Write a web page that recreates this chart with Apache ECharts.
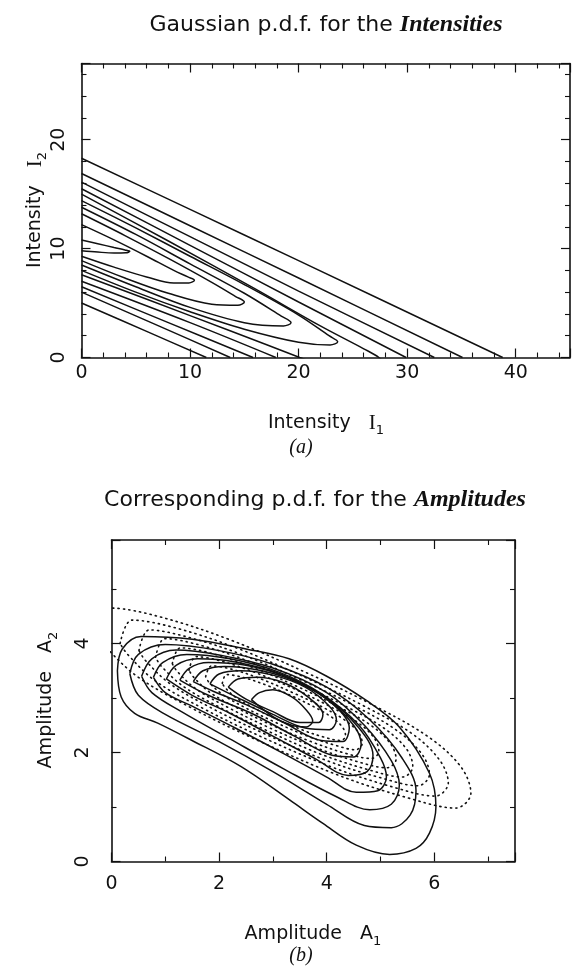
<!DOCTYPE html>
<html>
<head>
<meta charset="utf-8">
<title>Gaussian p.d.f. for the Intensities</title>
<script src="https://cdn.jsdelivr.net/npm/echarts@6/dist/echarts.min.js"></script>
<style>
html, body { margin: 0; padding: 0; background: #fff; }
#chart { width: 572px; height: 967px; }
</style>
</head>
<body>
<div id="chart"></div>
<script>
// ---- (a) intensities: contours, [I1, I2] ----
// contours whose tip is inside the frame (upper branch -> tip -> lower branch)
var intTip1 = [[0,10.8],[1.5,10.45],[3,10.1],[4.0,9.88],[4.45,9.75],[4.1,9.62],[3,9.6],[1.5,9.68],[0,9.8]];
var intTip2 = [[0,12.2],[3,10.8],[6,9.3],[8.5,8.0],[9.8,7.4],[10.4,7.1],[9.9,6.85],[8.5,6.85],[6,7.4],[3,8.3],[0,9.3]];
var intTip3 = [[0,13.2],[4,11.2],[8,9.1],[12,6.9],[14.2,5.6],[15.0,5.1],[14.4,4.8],[12,4.9],[8,5.9],[4,7.3],[0,8.9]];
var intTip4 = [[0,13.8],[5,11.3],[10,8.6],[15,5.9],[18.4,3.8],[19.3,3.2],[18.6,2.9],[15,3.2],[10,4.6],[5,6.5],[0,8.5]];
var intTip5 = [[0,14.4],[5,11.9],[10,9.3],[15,6.7],[20,3.9],[22.8,2.0],[23.6,1.45],[22.9,1.15],[20,1.4],[15,2.6],[10,4.2],[5,6.0],[0,8.0]];
// outer contours: both branches leave through the bottom axis
var intOutUp1 = [[0,15.0],[8,10.7],[16,6.3],[22,2.9],[26,0.8],[27.4,0],[28.2,-0.8]];
var intOutUp2 = [[0,15.5],[10,10.3],[20,5.1],[29.9,0]];
var intOutUp3 = [[0,16.1],[10,11.1],[20,6.1],[32.5,0]];
var intOutUp4 = [[0,16.9],[10,12.1],[20,7.3],[35.1,0]];
var intOutUp5 = [[0,18.3],[10,13.6],[20,8.9],[38.8,0]];
var intOutLow1 = [[0,7.6],[10,3.85],[17,1.2],[20.1,0],[22,-0.7]];
var intOutLow2 = [[0,7.0],[10,3.2],[17.9,0]];
var intOutLow3 = [[0,6.5],[8,3.2],[15.8,0]];
var intOutLow4 = [[0,6.0],[7,2.95],[13.7,0]];
var intOutLow5 = [[0,5.0],[6,2.4],[11.5,0]];

// ---- (b) amplitudes: solid contours [A1, A2], outermost first ----
var ampSolid1 = [[0.11,3.5],[0.2,3.9],[0.55,4.13],[1.5,4.08],[2.5,3.9],[3.3,3.72],[4.0,3.4],[4.73,2.96],[5.35,2.47],[5.91,1.62],[6.03,1.0],[5.91,0.52],[5.66,0.24],[5.17,0.13],[4.55,0.3],[3.93,0.7],[3.31,1.13],[2.41,1.74],[1.48,2.23],[0.86,2.54],[0.43,2.72],[0.18,3.02],[0.11,3.5]];
var ampSolid2 = [[0.34,3.45],[0.5,3.8],[1.0,3.98],[2.0,3.87],[3.0,3.62],[4.0,3.2],[4.8,2.6],[5.4,1.9],[5.66,1.3],[5.55,0.85],[5.2,0.62],[4.7,0.66],[4.0,1.05],[3.0,1.65],[2.0,2.2],[1.0,2.7],[0.5,3.05],[0.34,3.45]];
var ampSolid3 = [[0.56,3.4],[0.75,3.72],[1.2,3.88],[2.0,3.79],[3.0,3.55],[4.0,3.1],[4.7,2.5],[5.2,1.85],[5.35,1.4],[5.2,1.05],[4.8,0.95],[4.2,1.18],[3.2,1.7],[2.2,2.25],[1.3,2.75],[0.75,3.1],[0.56,3.4]];
var ampSolid4 = [[0.78,3.38],[0.95,3.65],[1.4,3.8],[2.2,3.72],[3.1,3.48],[3.9,3.08],[4.6,2.5],[5.0,1.9],[5.11,1.55],[4.95,1.3],[4.55,1.27],[4.0,1.55],[3.2,1.98],[2.3,2.45],[1.5,2.85],[1.0,3.1],[0.78,3.38]];
var ampSolid5 = [[1.02,3.35],[1.2,3.6],[1.6,3.72],[2.3,3.66],[3.2,3.42],[4.0,3.0],[4.6,2.45],[4.86,1.95],[4.75,1.65],[4.4,1.58],[3.8,1.88],[3.0,2.3],[2.2,2.72],[1.5,3.05],[1.02,3.35]];
var ampSolid6 = [[1.27,3.33],[1.45,3.55],[1.8,3.65],[2.5,3.6],[3.3,3.37],[4.0,2.98],[4.5,2.5],[4.64,2.15],[4.5,1.92],[4.1,1.95],[3.4,2.3],[2.6,2.72],[1.8,3.05],[1.27,3.33]];
var ampSolid7 = [[1.52,3.3],[1.7,3.5],[2.1,3.58],[2.8,3.5],[3.5,3.27],[4.1,2.9],[4.42,2.45],[4.3,2.2],[3.9,2.22],[3.2,2.55],[2.5,2.88],[1.9,3.12],[1.52,3.3]];
var ampSolid8 = [[1.83,3.26],[2.0,3.44],[2.4,3.5],[3.0,3.42],[3.6,3.2],[4.05,2.85],[4.18,2.6],[4.05,2.42],[3.6,2.45],[3.0,2.7],[2.4,2.98],[1.83,3.26]];
var ampSolid9 = [[2.17,3.2],[2.35,3.35],[2.7,3.38],[3.2,3.28],[3.65,3.02],[3.93,2.7],[3.85,2.55],[3.5,2.55],[3.0,2.75],[2.5,2.98],[2.17,3.2]];
var ampSolid10 = [[2.6,2.97],[2.75,3.1],[3.0,3.15],[3.35,3.02],[3.62,2.78],[3.74,2.58],[3.62,2.47],[3.35,2.5],[3.0,2.66],[2.6,2.97]];

// ---- (b) amplitudes: dotted contours, outermost first ----
var ampDot1 = [[-0.25,4.16],[0,4.65],[0.9,4.49],[2.2,4.07],[3.7,3.43],[4.9,2.85],[5.9,2.28],[6.5,1.73],[6.68,1.25],[6.4,0.98],[5.5,1.17],[4.2,1.59],[2.7,2.23],[1.5,2.81],[0.5,3.38],[-0.1,3.93],[-0.25,4.16]];
var ampDot2 = [[0.16,4.0],[0.38,4.43],[1.18,4.29],[2.32,3.92],[3.64,3.36],[4.7,2.85],[5.58,2.35],[6.1,1.86],[6.26,1.44],[6.02,1.2],[5.22,1.37],[4.08,1.74],[2.76,2.3],[1.7,2.81],[0.82,3.31],[0.3,3.8],[0.16,4.0]];
var ampDot3 = [[0.51,3.87],[0.7,4.25],[1.41,4.12],[2.42,3.8],[3.59,3.3],[4.53,2.85],[5.31,2.4],[5.77,1.97],[5.91,1.6],[5.7,1.39],[4.99,1.54],[3.98,1.86],[2.81,2.36],[1.87,2.81],[1.09,3.26],[0.63,3.69],[0.51,3.87]];
var ampDot4 = [[0.82,3.75],[0.99,4.09],[1.61,3.98],[2.51,3.69],[3.55,3.24],[4.37,2.84],[5.06,2.45],[5.48,2.07],[5.6,1.74],[5.41,1.55],[4.79,1.68],[3.89,1.97],[2.85,2.42],[2.03,2.82],[1.34,3.21],[0.92,3.59],[0.82,3.75]];
var ampDot5 = [[1.13,3.63],[1.28,3.92],[1.82,3.83],[2.6,3.57],[3.5,3.19],[4.22,2.84],[4.82,2.5],[5.18,2.17],[5.29,1.88],[5.12,1.72],[4.58,1.83],[3.8,2.09],[2.9,2.47],[2.18,2.82],[1.58,3.16],[1.22,3.49],[1.13,3.63]];
var ampDot6 = [[1.44,3.51],[1.57,3.76],[2.03,3.68],[2.69,3.46],[3.46,3.14],[4.07,2.84],[4.58,2.55],[4.88,2.27],[4.97,2.02],[4.83,1.89],[4.37,1.98],[3.71,2.2],[2.94,2.52],[2.33,2.82],[1.82,3.11],[1.52,3.39],[1.44,3.51]];
var ampDot7 = [[1.75,3.39],[1.86,3.59],[2.23,3.53],[2.78,3.35],[3.41,3.08],[3.91,2.84],[4.33,2.6],[4.59,2.37],[4.66,2.17],[4.54,2.05],[4.17,2.13],[3.62,2.31],[2.99,2.58],[2.49,2.82],[2.07,3.06],[1.81,3.29],[1.75,3.39]];
var ampDot8 = [[2.06,3.27],[2.14,3.43],[2.44,3.38],[2.87,3.24],[3.37,3.03],[3.76,2.84],[4.09,2.65],[4.29,2.47],[4.35,2.31],[4.26,2.22],[3.96,2.28],[3.53,2.42],[3.03,2.63],[2.64,2.82],[2.31,3.01],[2.11,3.19],[2.06,3.27]];

var intensityLines = [intTip1, intTip2, intTip3, intTip4, intTip5,
    intOutUp1, intOutUp2, intOutUp3, intOutUp4, intOutUp5,
    intOutLow1, intOutLow2, intOutLow3, intOutLow4, intOutLow5];
var ampSolidLines = [ampSolid1, ampSolid2, ampSolid3, ampSolid4, ampSolid5,
    ampSolid6, ampSolid7, ampSolid8, ampSolid9, ampSolid10];
var ampDotLines = [ampDot1, ampDot2, ampDot3, ampDot4, ampDot5, ampDot6, ampDot7, ampDot8];

var sans = 'DejaVu Sans';
var serif = 'Liberation Serif';
var ink = '#111';

function frameAxis(grid, pos, max, step, minorSplit, labels, margin) {
    var isY = (pos == 'left' || pos == 'right');
    return {
        type: 'value',
        gridIndex: grid,
        position: pos,
        min: 0,
        max: max,
        interval: step,
        axisLine: { show: true, onZero: false, lineStyle: { color: ink, width: 1.6 } },
        axisTick: { show: true, inside: true, length: 9, lineStyle: { color: ink, width: 1.2 } },
        minorTick: { show: true, splitNumber: minorSplit, length: 5, lineStyle: { color: ink, width: 1.1 } },
        splitLine: { show: false },
        axisLabel: {
            show: labels,
            showMaxLabel: false,
            color: ink,
            fontFamily: sans,
            fontSize: 19,
            rotate: isY ? 90 : 0,
            margin: margin || 8
        }
    };
}

function contourSeries(lines, xi, yi, dotted) {
    var out = [];
    for (var i = 0; i < lines.length; i++) {
        out.push({
            type: 'line',
            xAxisIndex: xi,
            yAxisIndex: yi,
            data: lines[i],
            showSymbol: false,
            smooth: 0.35,
            silent: true,
            clip: true,
            lineStyle: dotted
                ? { color: ink, width: 1.6, type: [1.2, 4.2], cap: 'round' }
                : { color: ink, width: 1.5 }
        });
    }
    return out;
}

// text placed by hand: titles, axis names, panel letters
function label(text, x, y, size, rotate, extra) {
    var style = {
        text: text, fontFamily: sans, fontSize: size, fill: ink,
        textAlign: 'center', textVerticalAlign: 'middle',
        rich: {
            it: { fontFamily: serif, fontStyle: 'italic', fontWeight: 'bold', fontSize: size + 2, fill: ink },
            s: { fontFamily: serif, fontSize: size + 2, fill: ink },
            sub: { fontFamily: sans, fontSize: 13, fill: ink, lineHeight: 29, verticalAlign: 'bottom' }
        }
    };
    if (extra) { for (var k in extra) style[k] = extra[k]; }
    return { type: 'text', x: x, y: y, rotation: rotate ? Math.PI / 2 : 0, style: style };
}

var chart = echarts.init(document.getElementById('chart'));

var option = {
    backgroundColor: '#fff',
    animation: false,
    grid: [
        { left: 81.5, top: 63.5, width: 488.5, height: 294 },
        { left: 111.5, top: 540, width: 403.5, height: 321.5 }
    ],
    xAxis: [
        frameAxis(0, 'bottom', 45, 10, 5, true, 6),
        frameAxis(0, 'top', 45, 10, 5, false),
        frameAxis(1, 'bottom', 7.5, 2, 2, true, 13),
        frameAxis(1, 'top', 7.5, 2, 2, false)
    ],
    yAxis: [
        frameAxis(0, 'left', 27, 10, 5, true, 13),
        frameAxis(0, 'right', 27, 10, 5, false),
        frameAxis(1, 'left', 5.9, 2, 2, true, 19),
        frameAxis(1, 'right', 5.9, 2, 2, false)
    ],
    graphic: [
        label('Gaussian p.d.f. for the {it|Intensities}', 326, 25, 22, false),
        label('Corresponding p.d.f. for the {it|Amplitudes}', 315, 500, 22, false),
        label('Intensity   {s|I}{sub|1}', 326, 423, 19, false),
        label('Intensity   {s|I}{sub|2}', 35, 210, 19, true),
        label('Amplitude   A{sub|1}', 313, 934, 19, false),
        label('Amplitude   A{sub|2}', 46, 700, 19, true),
        label('(a)', 301, 448, 20, false, { fontFamily: serif, fontStyle: 'italic' }),
        label('(b)', 301, 956, 20, false, { fontFamily: serif, fontStyle: 'italic' })
    ],
    series: []
        .concat(contourSeries(intensityLines, 0, 0, false))
        .concat(contourSeries(ampSolidLines, 2, 2, false))
        .concat(contourSeries(ampDotLines, 2, 2, true))
};

chart.setOption(option);
window.onresize = chart.resize;
</script>
</body>
</html>
